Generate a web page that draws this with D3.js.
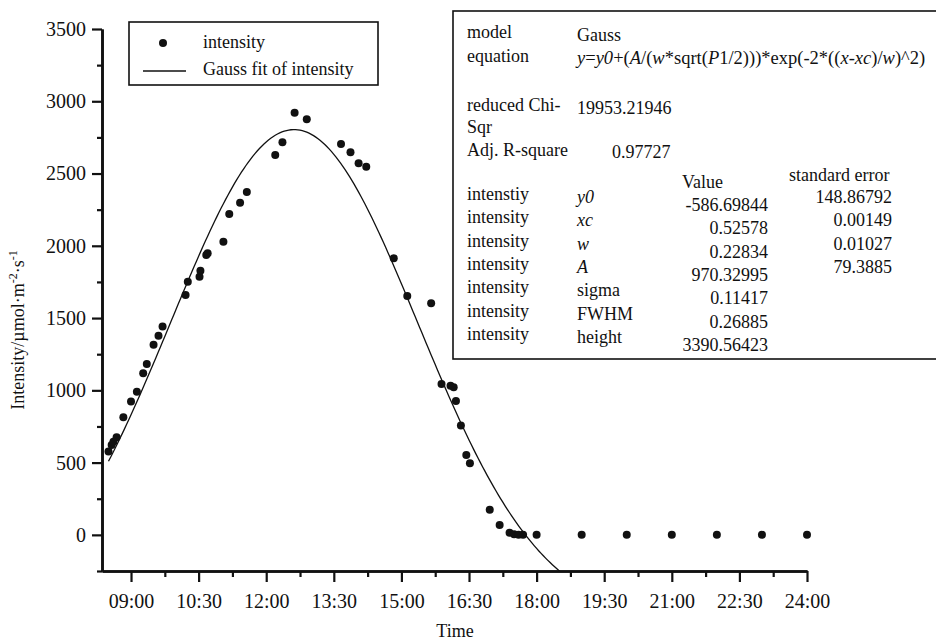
<!DOCTYPE html>
<html>
<head>
<meta charset="utf-8">
<script src="https://cdn.jsdelivr.net/npm/d3@7"></script>
<style>
  body { margin: 0; background: #fff; }
  svg { display: block; font-family: "Liberation Serif", "DejaVu Serif", serif; }
</style>
</head>
<body>
<svg id="chart" width="936" height="644"></svg>
<script>
// measured intensity, time in hours of day
const timeHours = [8.50, 8.57, 8.61, 8.68, 8.83, 9.00, 9.13, 9.27, 9.35, 9.50, 9.61, 9.70,
  10.21, 10.26, 10.52, 10.54, 10.67, 10.70, 11.05, 11.18, 11.42, 11.57, 12.20, 12.36,
  12.63, 12.90, 13.66, 13.87, 14.05, 14.22, 14.83, 15.13, 15.66, 15.89, 16.09, 16.16,
  16.21, 16.32, 16.44, 16.52, 16.96, 17.18, 17.40, 17.50, 17.60, 17.70,
  18.00, 19.00, 20.00, 21.00, 22.00, 23.00, 24.00];
const intensity = [576, 622, 645, 675, 813, 922, 991, 1118, 1183, 1316, 1378, 1441,
  1660, 1752, 1786, 1828, 1936, 1948, 2028, 2220, 2298, 2372, 2628, 2716,
  2921, 2875, 2704, 2647, 2571, 2547, 1913, 1653, 1602, 1044, 1032, 1021,
  927, 756, 553, 496, 173, 69, 14, 5, 0, 0,
  0, 0, 0, 0, 0, 0, 0];

// Gauss fit parameters (x in fraction of day)
const fitParams = { y0: -586.69844, xc: 0.52578, w: 0.22834, A: 970.32995 };

const xTickHours = [9, 10.5, 12, 13.5, 15, 16.5, 18, 19.5, 21, 22.5, 24];
const xTickLabels = ["09:00", "10:30", "12:00", "13:30", "15:00", "16:30", "18:00", "19:30", "21:00", "22:30", "24:00"];
const yTicks = [0, 500, 1000, 1500, 2000, 2500, 3000, 3500];

const legendItems = ["intensity", "Gauss fit of intensity"];

const tableTop = [
  ["model", "Gauss"],
  ["equation", null],
  ["reduced Chi-", "19953.21946"],
  ["Sqr", ""],
  ["Adj. R-square", "0.97727"]
];
const tableRowNames = ["intenstiy", "intensity", "intensity", "intensity", "intensity", "intensity", "intensity"];
const tableParams = ["y0", "xc", "w", "A", "sigma", "FWHM", "height"];
const tableParamItalic = [true, true, true, true, false, false, false];
const tableValues = ["-586.69844", "0.52578", "0.22834", "970.32995", "0.11417", "0.26885", "3390.56423"];
const tableErrors = ["148.86792", "0.00149", "0.01027", "79.3885"];

let svg = d3.select("#chart");

let x = d3.scaleLinear().domain([8.356, 24]).range([102, 807]);
let y = d3.scaleLinear().domain([-250, 3500]).range([571, 29]);

// Gauss curve from the fit, clipped to the plot area
svg.append("clipPath").attr("id", "plotclip")
  .append("rect").attr("x", 102).attr("y", 20).attr("width", 710).attr("height", 551);

let gauss = function(h){
  let xd = h / 24;
  let p = fitParams;
  return p.y0 + (p.A / (p.w * Math.sqrt(Math.PI / 2))) * Math.exp(-2 * Math.pow((xd - p.xc) / p.w, 2));
};
let curveHours = d3.range(8.5, 19.01, 0.05);
svg.append("path")
  .attr("clip-path", "url(#plotclip)")
  .attr("d", d3.line().x(d => x(d)).y(d => y(gauss(d)))(curveHours))
  .attr("fill", "none").attr("stroke", "#111").attr("stroke-width", 1.3);

// points
svg.selectAll(".pt").data(timeHours).enter().append("circle").attr("class", "pt")
  .attr("cx", d => x(d))
  .attr("cy", (d, i) => y(intensity[i]))
  .attr("r", 4)
  .attr("fill", "#111");

// axes
let xAxis = d3.axisBottom(x).tickValues(xTickHours).tickFormat((d, i) => xTickLabels[i]).tickSize(11).tickSizeOuter(0);
let xMinor = d3.axisBottom(x).tickValues(xTickHours.slice(0, -1).map(d => d + 0.75)).tickFormat("").tickSize(6).tickSizeOuter(0);
let yAxis = d3.axisLeft(y).tickValues(yTicks).tickFormat(d3.format("d")).tickSize(10).tickSizeOuter(0);
let yMinor = d3.axisLeft(y).tickValues(d3.range(-250, 3500, 500)).tickFormat("").tickSize(5).tickSizeOuter(0);

let gx = svg.append("g").attr("transform", "translate(0,571)").call(xAxis);
svg.append("g").attr("transform", "translate(0,571)").call(xMinor);
let gy = svg.append("g").attr("transform", "translate(102,0)").call(yAxis);
svg.append("g").attr("transform", "translate(102,0)").call(yMinor);

svg.selectAll(".domain").attr("stroke", "#111").attr("stroke-width", 2.6);
svg.selectAll(".tick line").attr("stroke", "#111").attr("stroke-width", 2.2);
gx.selectAll(".tick text").attr("font-size", 20).attr("font-family", "Liberation Serif").attr("fill", "#111").attr("dy", "0.71em").attr("y", 23);
gy.selectAll(".tick text").attr("font-size", 20).attr("font-family", "Liberation Serif").attr("fill", "#111").attr("x", -16);

// axis titles
svg.append("text").attr("x", 455).attr("y", 637).attr("text-anchor", "middle")
  .attr("font-size", 18).attr("fill", "#111").text("Time");

let ylab = svg.append("text").attr("transform", "translate(24,330) rotate(-90)")
  .attr("text-anchor", "middle").attr("font-size", 18).attr("fill", "#111");
ylab.append("tspan").text("Intensity/\u00b5mol\u00b7m");
ylab.append("tspan").attr("font-size", 12).attr("dy", -7).text("-2");
ylab.append("tspan").attr("dy", 7).text("\u00b7s");
ylab.append("tspan").attr("font-size", 12).attr("dy", -7).text("-1");

// legend
let legend = svg.append("g").attr("class", "legend");
legend.append("rect").attr("x", 129).attr("y", 22).attr("width", 249).attr("height", 63)
  .attr("fill", "#fff").attr("stroke", "#111").attr("stroke-width", 1.6);
legend.append("circle").attr("cx", 163).attr("cy", 43).attr("r", 4).attr("fill", "#111");
legend.append("line").attr("x1", 143).attr("x2", 186).attr("y1", 71).attr("y2", 71)
  .attr("stroke", "#111").attr("stroke-width", 1.3);
legend.selectAll(".ltext").data(legendItems).enter().append("text").attr("class", "ltext")
  .attr("x", 203).attr("y", (d, i) => 48 + i * 27)
  .attr("font-size", 18).attr("fill", "#111").text(d => d);

// fit result table
let table = svg.append("g").attr("class", "table");
table.append("rect").attr("x", 453).attr("y", 11).attr("width", 500).attr("height", 348)
  .attr("fill", "#fff").attr("stroke", "#111").attr("stroke-width", 1.6);

let topY = [38, 62, 111, 133, 156];
let tcell = function(tx, ty, txt, anchor){
  return table.append("text").attr("x", tx).attr("y", ty).attr("font-size", 18)
    .attr("fill", "#111").attr("text-anchor", anchor || "start").text(txt);
};
tableTop.forEach(function(row, i){
  tcell(467, topY[i], row[0]);
  if (row[1] && i !== 4) tcell(577, topY[i] + 3, row[1]);
});
tcell(612, 158, tableTop[4][1]);

// equation with italic parts
let eqParts = [["y", 1], ["=", 0], ["y0", 1], ["+(", 0], ["A", 1], ["/(", 0], ["w", 1], ["*sqrt(", 0],
  ["P", 1], ["1/2)))*exp(-2*((", 0], ["x", 1], ["-", 0], ["xc", 1], [")/", 0], ["w", 1], [")^2)", 0]];
let eq = table.append("text").attr("x", 577).attr("y", 64).attr("font-size", 18.5).attr("fill", "#111");
eqParts.forEach(function(p){
  eq.append("tspan").attr("font-style", p[1] ? "italic" : "normal").text(p[0]);
});

tcell(682, 188, "Value");
tcell(789, 181, "standard error");

tableRowNames.forEach(function(name, i){
  let by = 200 + i * 23.3;
  tcell(467, by, name);
  tcell(577, by + 3, tableParams[i]).attr("font-style", tableParamItalic[i] ? "italic" : "normal");
  tcell(768, by + 11, tableValues[i], "end");
  if (tableErrors[i]) tcell(892, by + 3, tableErrors[i], "end");
});
</script>
</body>
</html>
